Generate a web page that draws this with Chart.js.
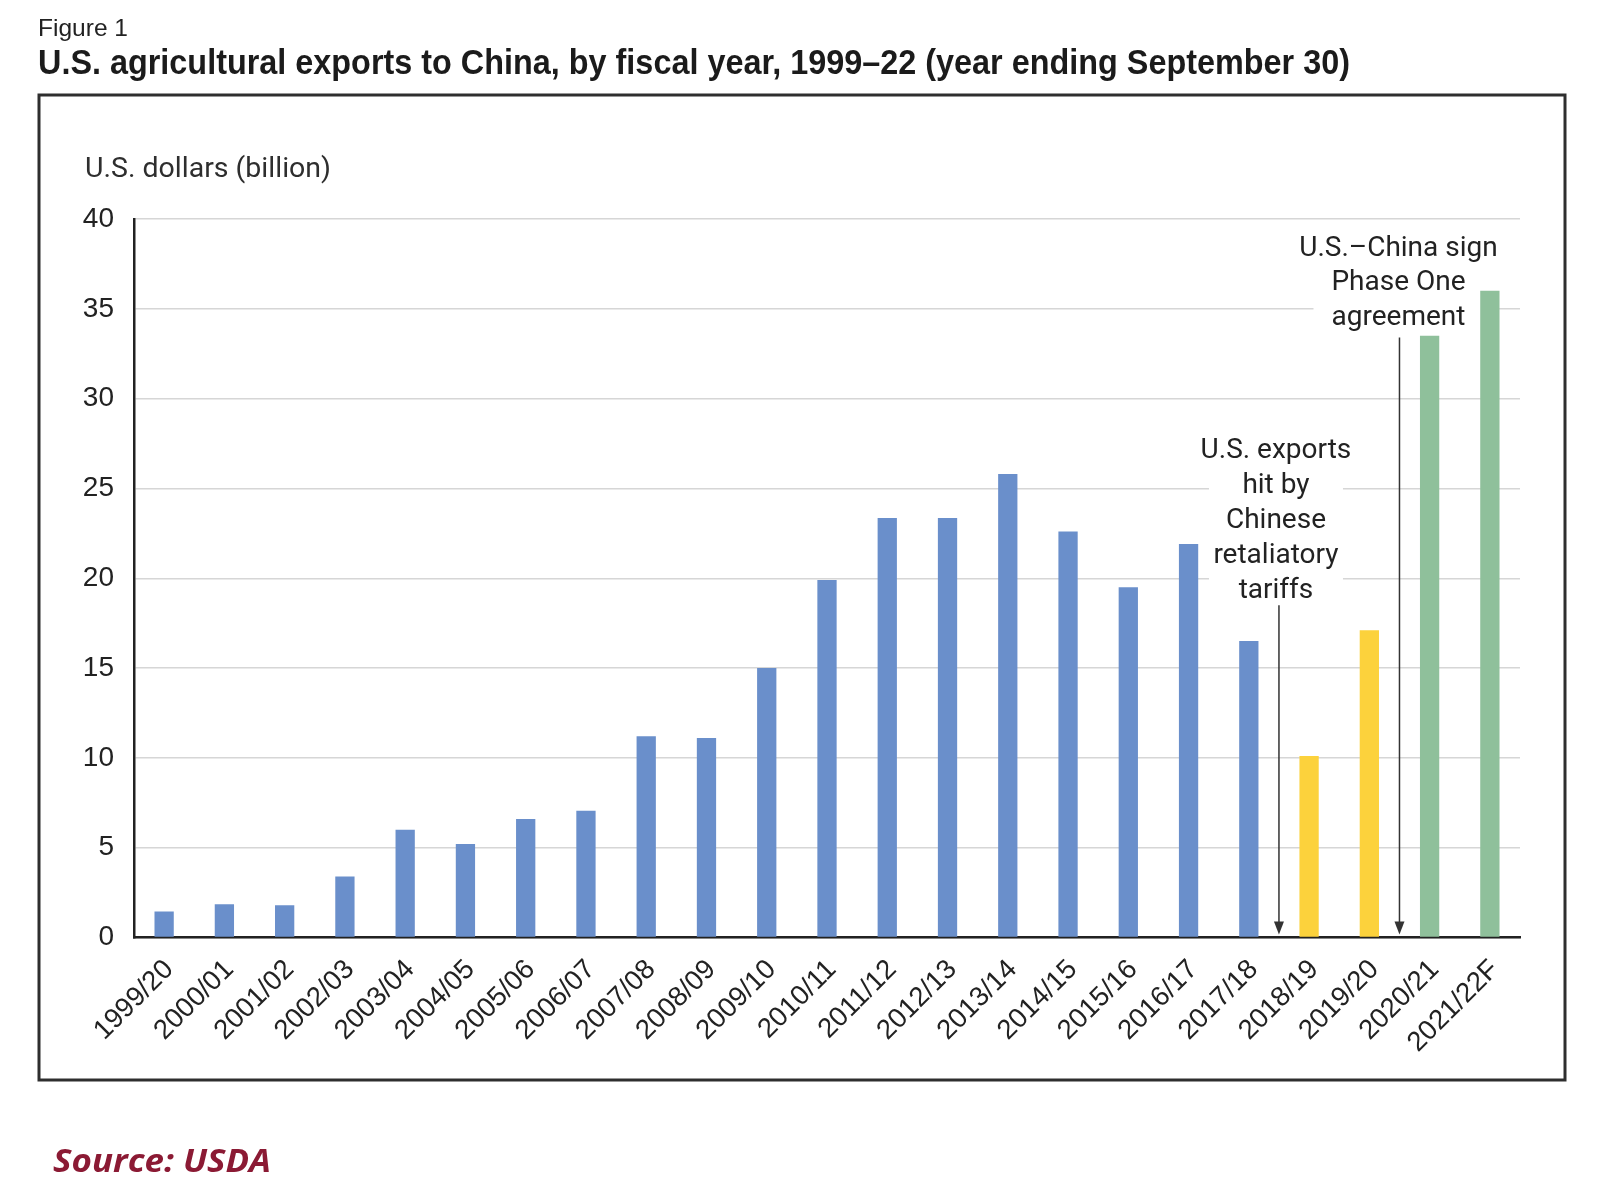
<!DOCTYPE html>
<html>
<head>
<meta charset="utf-8">
<script src="https://cdn.jsdelivr.net/npm/chart.js@4.4.1/dist/chart.umd.min.js"></script>
<style>
html,body{margin:0;padding:0;background:#fff;}
canvas{display:block;}
</style>
</head>
<body>
<canvas id="c" width="1600" height="1200"></canvas>
<script>
// ---- data ----
const categories = ['1999/20','2000/01','2001/02','2002/03','2003/04','2004/05','2005/06','2006/07','2007/08','2008/09','2009/10','2010/11','2011/12','2012/13','2013/14','2014/15','2015/16','2016/17','2017/18','2018/19','2019/20','2020/21','2021/22F'];
const exportsBillion = [1.45,1.85,1.8,3.4,6.0,5.2,6.6,7.05,11.2,11.1,15.0,19.9,23.35,23.35,25.8,22.6,19.5,21.9,16.5,10.1,17.1,33.5,36.0];
const periodGroup = ['pre','pre','pre','pre','pre','pre','pre','pre','pre','pre','pre','pre','pre','pre','pre','pre','pre','pre','pre','tariff','tariff','phase','phase'];
const yTickValues = [0,5,10,15,20,25,30,35,40];
const figureLabel = 'Figure 1';
const titleText = 'U.S. agricultural exports to China, by fiscal year, 1999–22 (year ending September 30)';
const yAxisTitle = 'U.S. dollars (billion)';
const sourceText = 'Source: USDA';
const tariffNote = ['U.S. exports','hit by','Chinese','retaliatory','tariffs'];
const phaseNote = ['U.S.–China sign','Phase One','agreement'];
// arrow placed between these category indexes, arrow top value, first text baseline value
const tariffArrow = {between:[18,19], topValue:18.5, textValue:26.72};
const phaseArrow = {between:[20,21], topValue:33.4, textValue:37.95};

const groupColors = {pre:'#6a8fcb', tariff:'#fcd23c', phase:'#8fc09b'};

function fitText(ctx, text, x, y, target, font, color){
  ctx.save();
  ctx.font = font;
  ctx.fillStyle = color;
  ctx.textAlign = 'left';
  ctx.textBaseline = 'alphabetic';
  const w = ctx.measureText(text).width;
  ctx.translate(x, y);
  ctx.scale(target / w, 1);
  ctx.fillText(text, 0, 0);
  ctx.restore();
}

function noteGeom(chart, cfg){
  const xs = chart.scales.x, ys = chart.scales.y;
  const ax = (xs.getPixelForValue(cfg.between[0]) + xs.getPixelForValue(cfg.between[1])) / 2;
  return {ax, top: ys.getPixelForValue(cfg.topValue), text: ys.getPixelForValue(cfg.textValue), base: ys.getPixelForValue(0)};
}

const LINE_H = 35.2;

const decor = {
  id: 'decor',
  beforeDraw(chart){
    const ctx = chart.ctx;
    ctx.save();
    ctx.fillStyle = '#fff';
    ctx.fillRect(0, 0, chart.width, chart.height);
    ctx.strokeStyle = '#2e2e2e';
    ctx.lineWidth = 3;
    ctx.strokeRect(39, 95, 1526, 985);
    ctx.restore();
    fitText(ctx, figureLabel, 38, 36, 90, '24px "Liberation Sans Narrow", "Liberation Sans", Arial, sans-serif', '#222');
    fitText(ctx, titleText, 38, 74, 1312, 'bold 35px "Liberation Sans Narrow", "Liberation Sans", Arial, sans-serif', '#1b1b1b');
    fitText(ctx, sourceText, 53, 1172, 218, 'italic bold 33px "Open Sans", "Liberation Sans", sans-serif', '#8b1a34');
    fitText(ctx, yAxisTitle, 85, 177, 246, '27px Roboto, "Liberation Sans", sans-serif', '#2e2e2e');
  },
  beforeDatasetsDraw(chart){
    const ctx = chart.ctx;
    ctx.save();
    ctx.font = '28px Roboto, "Liberation Sans", sans-serif';
    ctx.textAlign = 'center';
    ctx.textBaseline = 'alphabetic';
    // tariff note
    const g1 = noteGeom(chart, tariffArrow);
    const cx1 = g1.ax - 3;
    ctx.fillStyle = '#fff';
    ctx.fillRect(cx1 - 67, g1.text - 26, 134, (tariffNote.length - 1) * LINE_H + 36);
    ctx.fillStyle = '#222';
    tariffNote.forEach((t, i) => ctx.fillText(t, cx1, g1.text + i * LINE_H));
    // phase note
    const g2 = noteGeom(chart, phaseArrow);
    const cx2 = g2.ax - 1;
    ctx.fillStyle = '#fff';
    ctx.fillRect(cx2 - 85, g2.text - 28, 170, (phaseNote.length - 1) * 34.6 + 40);
    ctx.fillStyle = '#222';
    phaseNote.forEach((t, i) => ctx.fillText(t, cx2, g2.text + i * 34.6));
    ctx.restore();
  },
  afterDatasetsDraw(chart){
    const ctx = chart.ctx;
    [tariffArrow, phaseArrow].forEach(cfg => {
      const g = noteGeom(chart, cfg);
      const tip = g.base - 3;
      ctx.save();
      ctx.strokeStyle = '#333';
      ctx.fillStyle = '#333';
      ctx.lineWidth = 1.5;
      ctx.beginPath();
      ctx.moveTo(g.ax, g.top);
      ctx.lineTo(g.ax, tip - 10);
      ctx.stroke();
      ctx.beginPath();
      ctx.moveTo(g.ax - 5, tip - 13);
      ctx.lineTo(g.ax + 5, tip - 13);
      ctx.lineTo(g.ax, tip);
      ctx.closePath();
      ctx.fill();
      ctx.restore();
    });
  }
};

new Chart(document.getElementById('c'), {
  type: 'bar',
  data: {
    labels: categories,
    datasets: [{
      data: exportsBillion,
      backgroundColor: periodGroup.map(g => groupColors[g]),
      borderWidth: 0,
      barPercentage: 0.32,
      categoryPercentage: 1.0
    }]
  },
  options: {
    responsive: false,
    animation: false,
    devicePixelRatio: 1,
    layout: {padding: {top: 219, right: 80, bottom: 0, left: 0}},
    plugins: {legend: {display: false}, tooltip: {enabled: false}},
    scales: {
      x: {
        grid: {display: false, drawTicks: false},
        border: {display: true, color: '#222', width: 2.5},
        ticks: {
          minRotation: 45, maxRotation: 45, autoSkip: false,
          padding: 16,
          labelOffset: 5,
          color: '#222',
          font: {size: 27.5, family: '"Liberation Sans", Arial, sans-serif'}
        },
        afterFit(s){ s.height = 262.5; }
      },
      y: {
        min: 0, max: 40,
        afterBuildTicks(s){ s.ticks = yTickValues.map(v => ({value: v})); },
        grid: {color: '#d6d6d6', lineWidth: 1.5, drawTicks: false},
        border: {display: true, color: '#222', width: 2.5},
        ticks: {
          padding: 20,
          color: '#222',
          font: {size: 28, family: '"Liberation Sans", Arial, sans-serif'}
        },
        afterFit(s){ s.width = 134; }
      }
    }
  },
  plugins: [decor]
});
</script>
</body>
</html>
